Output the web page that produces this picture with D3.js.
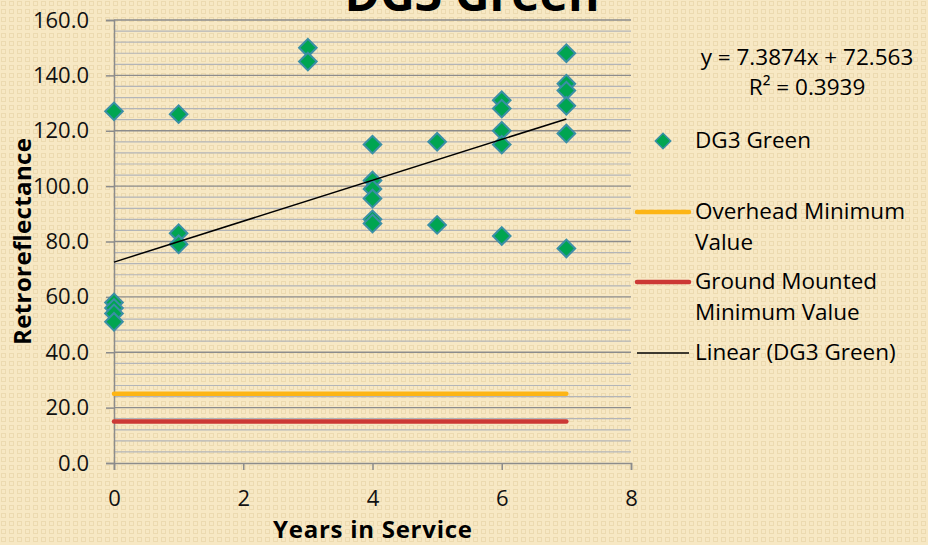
<!DOCTYPE html>
<html>
<head>
<meta charset="utf-8">
<script src="https://cdn.jsdelivr.net/npm/d3@7"></script>
<style>
  html, body { margin: 0; padding: 0; background: #f6e7c3; }
  svg { display: block; font-family: "Open Sans", Lato, sans-serif; }
</style>
</head>
<body>
<div id="chart"></div>
<script>
// observations, one array per year in service
var years = [0, 1, 3, 4, 5, 6, 7];
var readings = [
   [127, 58, 56, 54, 51],
   [126, 83, 79],
   [150, 145],
   [115, 102, 99, 95.5, 88, 86.5],
   [116, 86],
   [131, 128, 120, 115, 82],
   [148, 137, 134.5, 129, 119, 77.5]
];
var overheadMin = 25;
var groundMin = 15;
var minRange = [0, 7];
var trendSlope = 7.3874;
var trendIntercept = 72.563;
var trendLabel = 'y = 7.3874x + 72.563';
var r2Label = 'R\u00b2 = 0.3939';
var xTicks = [0, 2, 4, 6, 8];
var yTicks = [0, 20, 40, 60, 80, 100, 120, 140, 160];
var legendLabels = ['DG3 Green', ['Overhead Minimum', 'Value'], ['Ground Mounted', 'Minimum Value'], 'Linear (DG3 Green)'];

var width = 928, height = 545;
var margin = {top: 20, left: 114, right: 297, bottom: 82};

var points = [];
years.forEach(function(yr, i) {
   readings[i].forEach(function(v) {
      points.push({x: yr, y: v});
   });
});

var svg = d3.select('#chart').append('svg')
   .attr('width', width)
   .attr('height', height);

// beige background with the small square texture
var defs = svg.append('defs');
var pat = defs.append('pattern')
   .attr('id', 'bg')
   .attr('width', 8)
   .attr('height', 8)
   .attr('patternUnits', 'userSpaceOnUse');
pat.append('rect').attr('width', 8).attr('height', 8).attr('fill', '#f7e8c4');
pat.append('rect').attr('x', 1.5).attr('y', 1.5).attr('width', 4).attr('height', 4)
   .attr('fill', 'none').attr('stroke', '#ecdab0').attr('stroke-width', 1);

svg.append('rect').attr('width', width).attr('height', height).attr('fill', 'url(#bg)');

var x = d3.scaleLinear().domain([0, 8]).range([margin.left, width - margin.right]);
var y = d3.scaleLinear().domain([0, 160]).range([height - margin.bottom, margin.top]);

// gridlines: minor every 4, major every 20
var minor = d3.range(4, 160, 4).filter(function(v) { return v % 20 !== 0; });
svg.append('g').selectAll('line')
   .data(minor)
   .enter().append('line')
   .attr('x1', x(0)).attr('x2', x(8))
   .attr('y1', function(d) { return y(d); })
   .attr('y2', function(d) { return y(d); })
   .attr('stroke', '#b3b5b8')
   .attr('stroke-width', 1.2);

svg.append('g').selectAll('line')
   .data(yTicks.slice(1))
   .enter().append('line')
   .attr('x1', x(0)).attr('x2', x(8))
   .attr('y1', function(d) { return y(d); })
   .attr('y2', function(d) { return y(d); })
   .attr('stroke', '#8c8c8c')
   .attr('stroke-width', 1.3);

// axes
var yAxis = svg.append('g')
   .attr('transform', 'translate(' + x(0) + ',0)')
   .call(d3.axisLeft(y).tickValues(yTicks).tickSize(8).tickPadding(17).tickFormat(d3.format('.1f')));
var xAxis = svg.append('g')
   .attr('transform', 'translate(0,' + y(0) + ')')
   .call(d3.axisBottom(x).tickValues(xTicks).tickSize(7).tickPadding(20));

[xAxis, yAxis].forEach(function(a) {
   a.select('.domain').attr('stroke', '#8c8c8c').attr('stroke-width', 1.5);
   a.selectAll('.tick line').attr('stroke', '#8c8c8c').attr('stroke-width', 1.5);
   a.selectAll('.tick text')
      .attr('fill', '#111')
      .style('font-size', '22px')
      .style('font-family', '"Open Sans", sans-serif');
});

// minimum value lines
var minLine = d3.line()
   .x(function(d) { return x(d[0]); })
   .y(function(d) { return y(d[1]); });

svg.append('path')
   .attr('d', minLine(minRange.map(function(v) { return [v, overheadMin]; })))
   .attr('stroke', '#fdb515')
   .attr('stroke-width', 4.5)
   .attr('stroke-linecap', 'round')
   .attr('fill', 'none');

svg.append('path')
   .attr('d', minLine(minRange.map(function(v) { return [v, groundMin]; })))
   .attr('stroke', '#cc3835')
   .attr('stroke-width', 4.5)
   .attr('stroke-linecap', 'round')
   .attr('fill', 'none');

// diamonds
var diamond = d3.symbol().type(d3.symbolSquare).size(155);
svg.append('g').selectAll('path')
   .data(points)
   .enter().append('path')
   .attr('d', diamond)
   .attr('transform', function(d) {
      return 'translate(' + x(d.x) + ',' + y(d.y) + ') rotate(45)';
   })
   .attr('fill', '#00a551')
   .attr('stroke', '#3a8fa6')
   .attr('stroke-width', 2);

// linear trend
svg.append('path')
   .attr('d', minLine(minRange.map(function(v) { return [v, trendIntercept + trendSlope * v]; })))
   .attr('stroke', '#000')
   .attr('stroke-width', 1.5)
   .attr('fill', 'none');

// title (clipped at top, as in the slide)
svg.append('text')
   .attr('x', 472)
   .attr('y', 11)
   .attr('text-anchor', 'middle')
   .attr('textLength', 255)
   .style('font-size', '48px')
   .style('font-weight', 'bold')
   .attr('fill', '#000')
   .text('DG3 Green');

// axis titles
svg.append('text')
   .attr('x', (x(0) + x(8)) / 2)
   .attr('y', 538)
   .attr('text-anchor', 'middle')
   .attr('textLength', 199)
   .style('font-size', '24px')
   .style('font-weight', 'bold')
   .text('Years in Service');

svg.append('text')
   .attr('transform', 'translate(31,241.5) rotate(-90)')
   .attr('text-anchor', 'middle')
   .attr('textLength', 207)
   .style('font-size', '24px')
   .style('font-weight', 'bold')
   .text('Retroreflectance');

// equation
svg.append('text')
   .attr('x', 807).attr('y', 65)
   .attr('text-anchor', 'middle')
   .style('font-size', '22.5px')
   .text(trendLabel);
svg.append('text')
   .attr('x', 807).attr('y', 95)
   .attr('text-anchor', 'middle')
   .style('font-size', '22.5px')
   .text(r2Label);

// legend
var lg = svg.append('g').style('font-size', '22.5px');
var tx = 695;

lg.append('path')
   .attr('d', d3.symbol().type(d3.symbolSquare).size(120))
   .attr('transform', 'translate(663,141) rotate(45)')
   .attr('fill', '#00a551')
   .attr('stroke', '#3a8fa6')
   .attr('stroke-width', 1.5);
lg.append('text').attr('x', tx).attr('y', 148).text(legendLabels[0]);

var swatches = [
   {y: 212, color: '#fdb515', w: 4.5, lines: legendLabels[1]},
   {y: 282, color: '#cc3835', w: 4.5, lines: legendLabels[2]},
   {y: 353, color: '#000', w: 1.5, lines: [legendLabels[3]]}
];
swatches.forEach(function(s) {
   lg.append('line')
      .attr('x1', 637).attr('x2', 689)
      .attr('y1', s.y).attr('y2', s.y)
      .attr('stroke', s.color)
      .attr('stroke-width', s.w)
      .attr('stroke-linecap', s.w > 2 ? 'round' : 'butt');
   s.lines.forEach(function(t, i) {
      lg.append('text').attr('x', tx).attr('y', s.y + 7 + i * 31).text(t);
   });
});
</script>
</body>
</html>
